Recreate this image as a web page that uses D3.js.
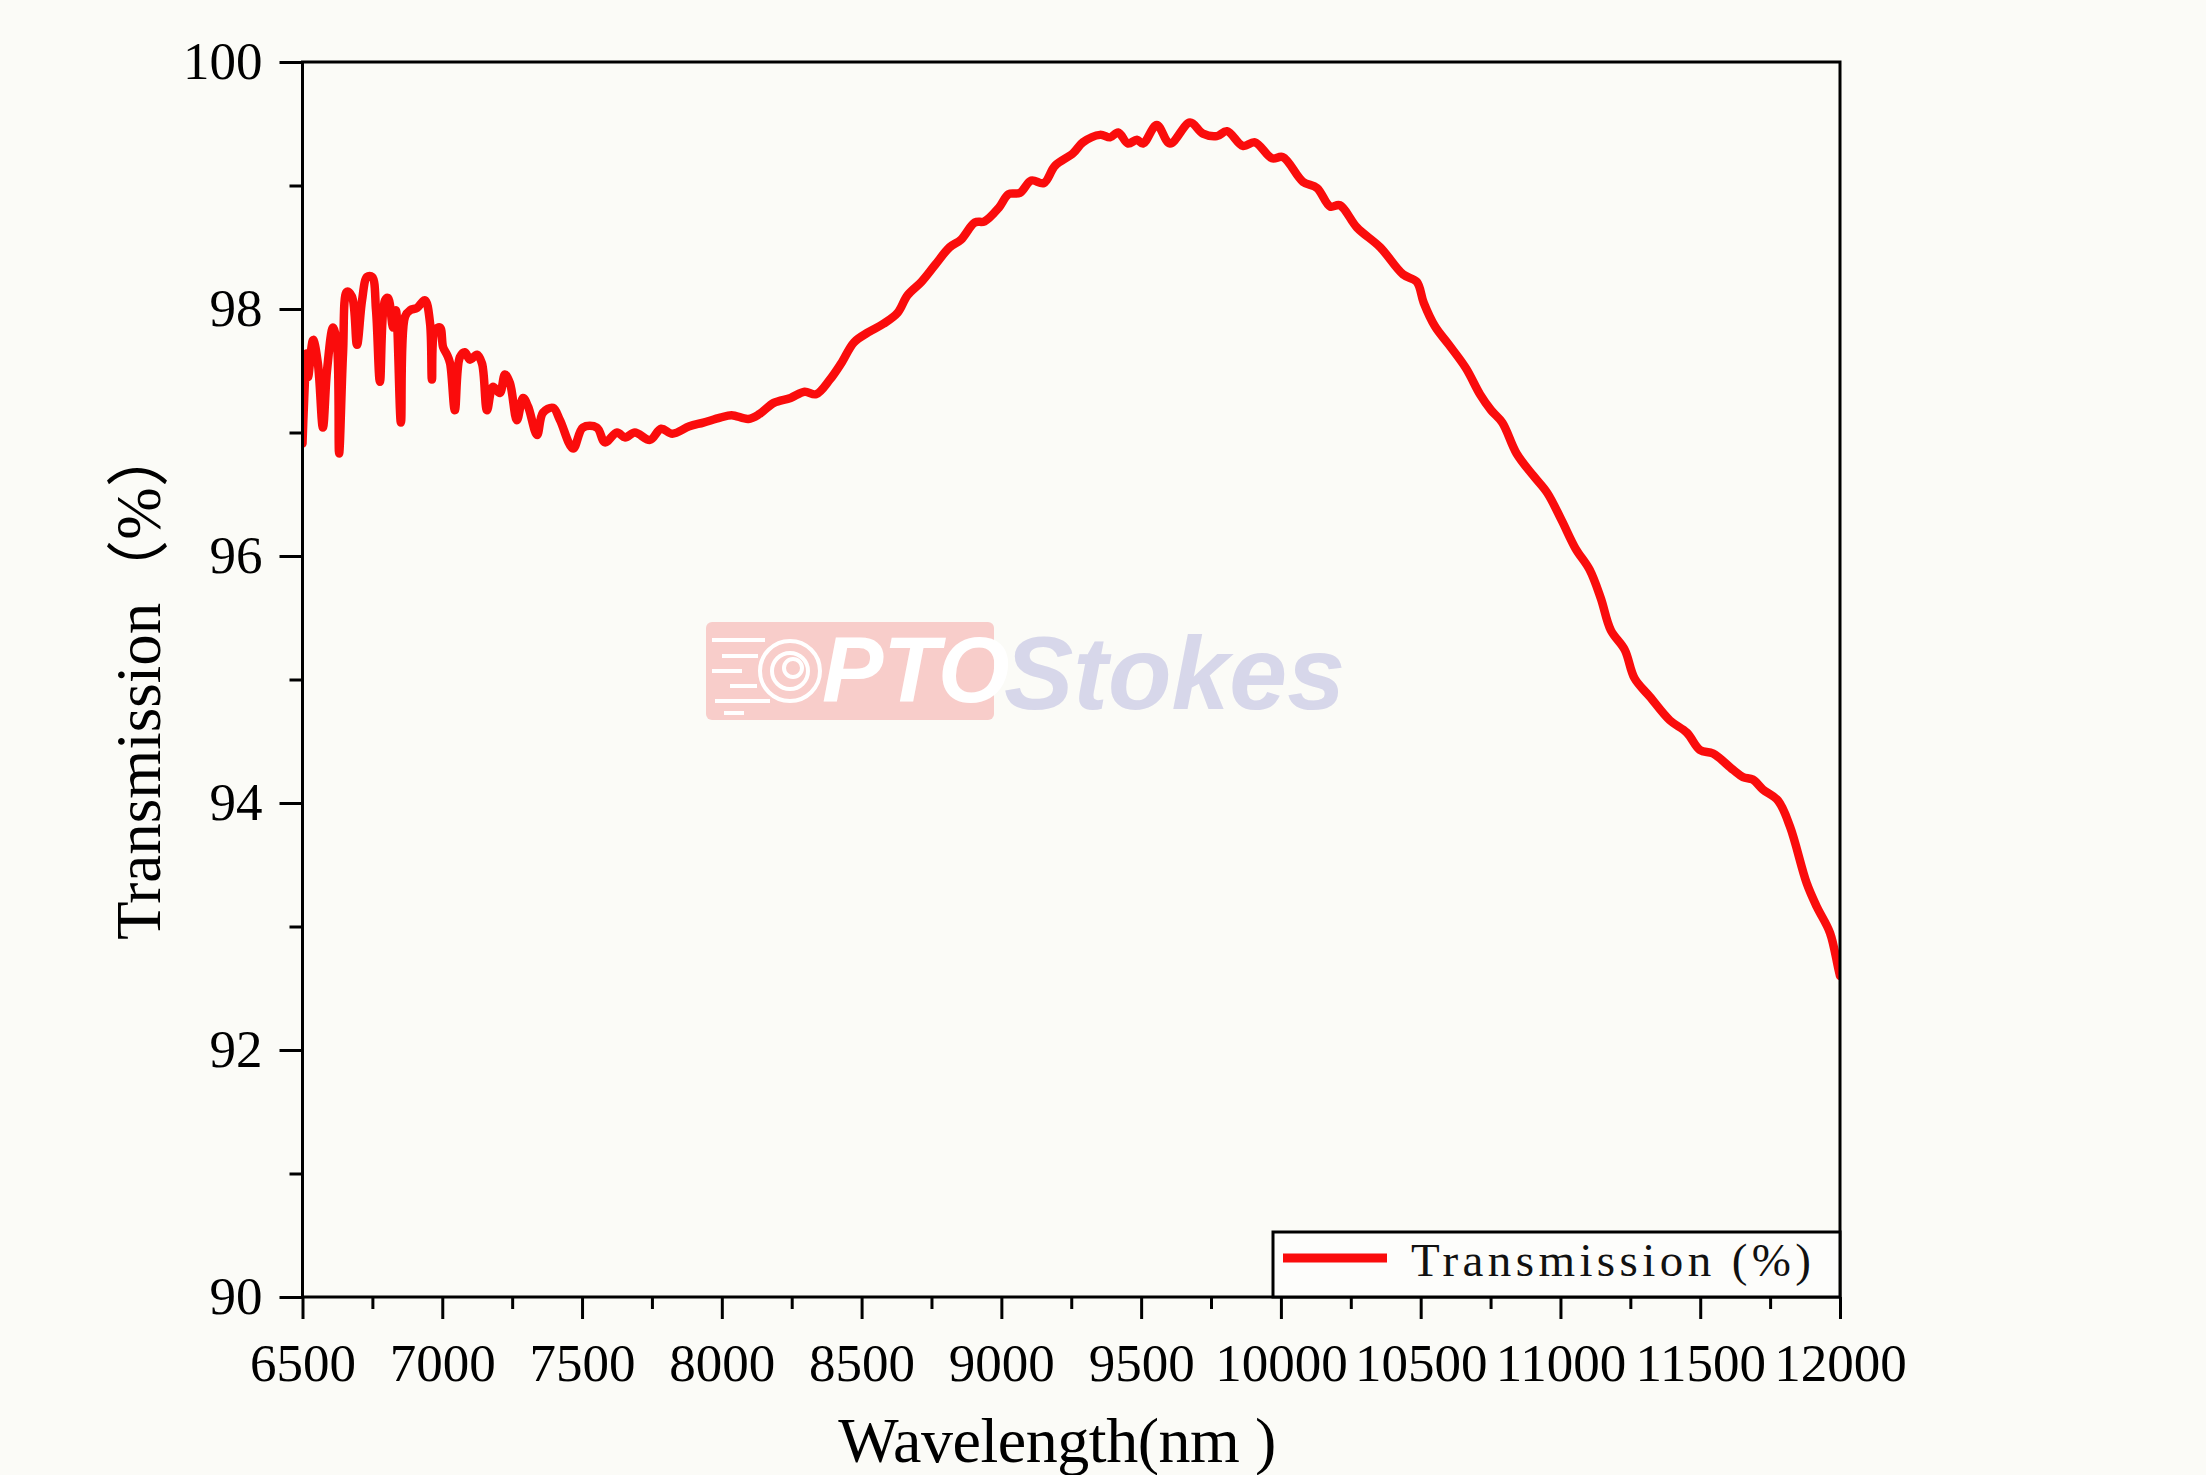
<!DOCTYPE html>
<html>
<head>
<meta charset="utf-8">
<script src="https://cdn.jsdelivr.net/npm/d3@7/dist/d3.min.js"></script>
<style>
  html, body { margin: 0; padding: 0; background: #fbfbf7; }
  svg { display: block; }
</style>
</head>
<body>
<svg id="chart" width="2206" height="1475"></svg>
<script>
// ---- data ----
const wavelength = [
  6500, 6515, 6520, 6538, 6555, 6573, 6588, 6609, 6623, 6631, 6645, 6659, 6677, 6695, 6713,
  6731, 6749, 6763, 6777, 6795, 6806, 6824, 6834, 6852, 6867, 6885, 6910, 6938, 6956, 6963,
  6974, 6992, 7003, 7017, 7028, 7045, 7063, 7081, 7099, 7124, 7142, 7160, 7181, 7206, 7224,
  7242, 7267, 7289, 7307, 7339, 7360, 7396, 7421, 7468, 7503, 7553, 7582, 7625, 7654, 7689,
  7743, 7783, 7823, 7884, 7934, 7994, 8035, 8095, 8135, 8186, 8246, 8296, 8337, 8387, 8427,
  8473, 8523, 8578, 8629, 8664, 8714, 8764, 8815, 8855, 8905, 8940, 8991, 9026, 9066, 9107,
  9152, 9192, 9256, 9292, 9353, 9389, 9418, 9453, 9485, 9507, 9556, 9603, 9675, 9721, 9771,
  9807, 9864, 9907, 9968, 10007, 10079, 10129, 10176, 10211, 10272, 10355, 10437, 10486, 10511, 10551,
  10601, 10662, 10712, 10752, 10792, 10843, 10903, 10953, 11004, 11054, 11104, 11144, 11180, 11230, 11265,
  11320, 11391, 11452, 11499, 11546, 11617, 11653, 11688, 11724, 11778, 11821, 11881, 11917, 11964, 11993,
  12000
];
const transmission = [
  96.91, 97.64, 97.45, 97.75, 97.56, 97.04, 97.51, 97.85, 97.72, 96.83, 97.64, 98.14, 98.10, 97.71, 98.07,
  98.26, 98.26, 97.99, 97.41, 98.07, 98.09, 97.85, 97.99, 97.08, 97.94, 97.99, 98.01, 98.07, 97.89, 97.43,
  97.83, 97.85, 97.69, 97.63, 97.56, 97.18, 97.61, 97.65, 97.59, 97.63, 97.56, 97.18, 97.37, 97.32, 97.47,
  97.40, 97.10, 97.28, 97.21, 96.98, 97.16, 97.20, 97.10, 96.87, 97.04, 97.04, 96.92, 97.00, 96.96, 97.00,
  96.94, 97.03, 96.99, 97.05, 97.08, 97.12, 97.14, 97.11, 97.15, 97.24, 97.28, 97.33, 97.31, 97.43, 97.56,
  97.73, 97.81, 97.88, 97.97, 98.11, 98.22, 98.36, 98.50, 98.56, 98.70, 98.71, 98.82, 98.93, 98.94, 99.04,
  99.02, 99.16, 99.26, 99.35, 99.41, 99.39, 99.43, 99.34, 99.37, 99.34, 99.49, 99.34, 99.51, 99.42, 99.40,
  99.44, 99.32, 99.35, 99.22, 99.23, 99.03, 98.98, 98.83, 98.84, 98.66, 98.50, 98.28, 98.22, 98.05, 97.86,
  97.71, 97.52, 97.31, 97.18, 97.08, 96.83, 96.65, 96.51, 96.29, 96.06, 95.89, 95.66, 95.40, 95.24, 95.01,
  94.86, 94.67, 94.57, 94.43, 94.40, 94.27, 94.21, 94.19, 94.11, 94.02, 93.81, 93.35, 93.16, 92.95, 92.67,
  92.60
];
const xTickValues = [6500, 7000, 7500, 8000, 8500, 9000, 9500, 10000, 10500, 11000, 11500, 12000];
const xMinorTicks = [6750, 7250, 7750, 8250, 8750, 9250, 9750, 10250, 10750, 11250, 11750];
const yTickValues = [90, 92, 94, 96, 98, 100];
const yMinorTicks = [91, 93, 95, 97, 99];
const seriesName = "Transmission (%)";
const xTitle = "Wavelength(nm )";
const yTitle = "Transmission\uFF08%\uFF09";

// ---- layout ----
const L = 302.5, R = 1840, T = 62, B = 1297;
const svg = d3.select("#chart");
const serif = "'Liberation Serif', 'Times New Roman', 'Noto Sans CJK SC', serif";

svg.append("rect").attr("width", 2206).attr("height", 1475).attr("fill", "#fbfbf7");

const x = d3.scaleLinear().domain([6500, 12000]).range([L, R]);
const y = d3.scaleLinear().domain([90, 100]).range([B, T]);

// ---- watermark ----
const wm = svg.append("g").attr("class", "watermark");
wm.append("rect").attr("x", 706).attr("y", 622).attr("width", 288).attr("height", 98)
  .attr("rx", 6).attr("fill", "#f8cdca");
const lens = wm.append("g").attr("fill", "none").attr("stroke", "#ffffff").attr("stroke-width", 4);
lens.append("circle").attr("cx", 790).attr("cy", 671).attr("r", 30);
lens.append("circle").attr("cx", 790).attr("cy", 671).attr("r", 18);
lens.append("circle").attr("cx", 793).attr("cy", 668).attr("r", 9);
[[712, 640, 765], [722, 656, 758], [712, 671, 742], [730, 686, 757], [715, 701, 770], [724, 713, 744]]
  .forEach(([x1, yy, x2]) => lens.append("line").attr("x1", x1).attr("x2", x2).attr("y1", yy).attr("y2", yy));
wm.append("text").attr("x", 822).attr("y", 702)
  .attr("font-family", "'Liberation Sans', Arial, sans-serif").attr("font-weight", "bold")
  .attr("font-style", "italic").attr("font-size", 92).attr("fill", "#ffffff").text("PTO");
wm.append("text").attr("x", 1004).attr("y", 709)
  .attr("font-family", "'Liberation Sans', Arial, sans-serif").attr("font-weight", "bold")
  .attr("font-style", "italic").attr("font-size", 104).attr("fill", "#d7d7ea").text("Stokes");

// ---- axes ----
const axisStyle = g => {
  g.select(".domain").remove();
  g.selectAll(".tick line").attr("stroke", "#000").attr("stroke-width", 3);
  g.selectAll(".tick text").attr("fill", "#000").attr("font-family", serif).attr("font-size", 53);
};

svg.append("g").attr("transform", `translate(0,${B})`)
  .call(d3.axisBottom(x).tickValues(xTickValues).tickFormat(d3.format("d")).tickSize(22).tickPadding(24).tickSizeOuter(0))
  .call(axisStyle)
  .call(g => g.selectAll(".tick text").attr("dy", "0.71em"));
svg.append("g").attr("transform", `translate(0,${B})`)
  .call(d3.axisBottom(x).tickValues(xMinorTicks).tickFormat("").tickSize(12).tickSizeOuter(0))
  .call(axisStyle);

svg.append("g").attr("transform", `translate(${L},0)`)
  .call(d3.axisLeft(y).tickValues(yTickValues).tickFormat(d3.format("d")).tickSize(23).tickPadding(17).tickSizeOuter(0))
  .call(axisStyle);
svg.append("g").attr("transform", `translate(${L},0)`)
  .call(d3.axisLeft(y).tickValues(yMinorTicks).tickFormat("").tickSize(13).tickSizeOuter(0))
  .call(axisStyle);

// ---- line ----
svg.append("clipPath").attr("id", "plotclip")
  .append("rect").attr("x", L).attr("y", T - 10).attr("width", R - L).attr("height", B - T + 20);

const pts = wavelength.map((w, i) => [w, transmission[i]]);
const line = d3.line().x(d => x(d[0])).y(d => y(d[1])).curve(d3.curveCatmullRom.alpha(0.5));
svg.append("path").datum(pts)
  .attr("clip-path", "url(#plotclip)")
  .attr("d", line)
  .attr("fill", "none").attr("stroke", "#fa0c0c").attr("stroke-width", 8.5)
  .attr("stroke-linejoin", "round").attr("stroke-linecap", "round");

// ---- frame ----
svg.append("rect").attr("x", L).attr("y", T).attr("width", R - L).attr("height", B - T)
  .attr("fill", "none").attr("stroke", "#000").attr("stroke-width", 3);

// ---- legend ----
const lg = svg.append("g");
lg.append("rect").attr("x", 1273).attr("y", 1232).attr("width", R - 1273).attr("height", B - 1232)
  .attr("fill", "#fdfdfb").attr("stroke", "#000").attr("stroke-width", 3);
lg.append("line").attr("x1", 1283).attr("x2", 1387).attr("y1", 1258).attr("y2", 1258)
  .attr("stroke", "#fa0c0c").attr("stroke-width", 9);
lg.append("text").attr("x", 1411).attr("y", 1276)
  .attr("font-family", serif).attr("font-size", 47).attr("fill", "#111")
  .attr("textLength", 400).attr("lengthAdjust", "spacing")
  .text(seriesName);

// ---- titles ----
svg.append("text").attr("x", (L + R) / 2 - 14).attr("y", 1462).attr("text-anchor", "middle")
  .attr("font-family", serif).attr("font-size", 64).attr("fill", "#000")
  .attr("textLength", 438).attr("lengthAdjust", "spacing").text(xTitle);
svg.append("text").attr("transform", "translate(160,940) rotate(-90)").attr("text-anchor", "start")
  .attr("font-family", serif).attr("font-size", 63).attr("fill", "#000").text(yTitle);
</script>
</body>
</html>
